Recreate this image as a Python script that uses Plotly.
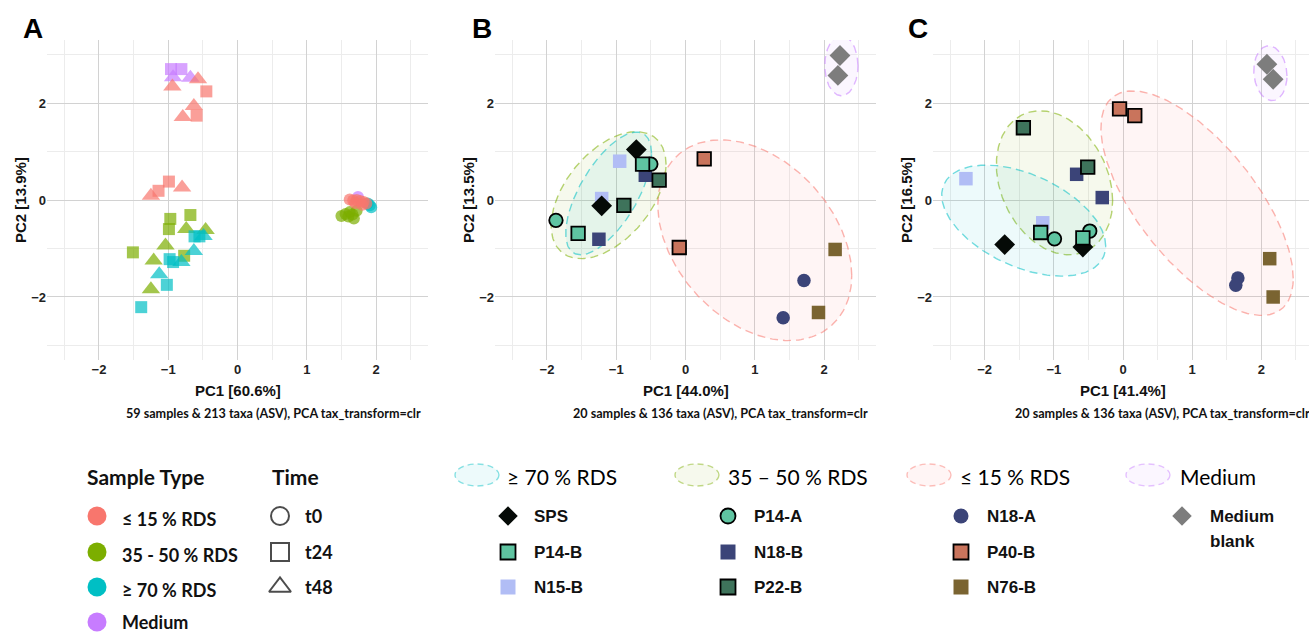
import numpy as np
import plotly.graph_objects as go

# ---------------- Panel A data ----------------
A_types = ["Medium", "35 - 50 % RDS", "≥ 70 % RDS", "≤ 15 % RDS"]
A_colors = ["#C77CFF", "#7CAE00", "#00BFC4", "#F8766D"]

A_med_time = ["t24", "t24", "t48", "t48", "t0"]
A_med_x = [-0.96, -0.81, -0.93, -0.68, 1.74]
A_med_y = [2.70, 2.70, 2.53, 2.52, 0.06]

A_mid_time = ["t24", "t24", "t24", "t24", "t24", "t48", "t48", "t48", "t48", "t48",
              "t0", "t0", "t0", "t0", "t0", "t0", "t0"]
A_mid_x = [-0.97, -0.99, -0.68, -1.51, -0.77, -0.74, -0.46, -1.04, -1.21, -1.25,
           1.50, 1.56, 1.62, 1.68, 1.72, 1.60, 1.66]
A_mid_y = [-0.39, -0.60, -0.31, -1.08, -1.15, -0.60, -0.62, -0.94, -1.25, -1.84,
           -0.33, -0.29, -0.25, -0.38, -0.22, -0.34, -0.30]

A_high_time = ["t24", "t24", "t48", "t48", "t24", "t24", "t48", "t48", "t24", "t24",
               "t0", "t0", "t0"]
A_high_x = [-0.62, -0.55, -0.49, -0.63, -0.93, -0.98, -0.81, -1.13, -1.02, -1.39,
            1.88, 1.91, 1.93]
A_high_y = [-0.75, -0.75, -0.74, -1.05, -1.28, -1.22, -1.28, -1.53, -1.75, -2.21,
            -0.07, -0.11, -0.15]

A_low_time = ["t48", "t48", "t24", "t48", "t48", "t24", "t48", "t24", "t24", "t48",
              "t0", "t0", "t0", "t0", "t0", "t0", "t0", "t0"]
A_low_x = [-0.94, -0.57, -0.45, -0.63, -0.79, -0.59, -1.25, -1.14, -0.99, -0.80,
           1.62, 1.67, 1.72, 1.77, 1.82, 1.86, 1.70, 1.80]
A_low_y = [2.34, 2.49, 2.24, 1.94, 1.71, 1.74, 0.09, 0.19, 0.38, 0.26,
           0.01, -0.01, 0.0, -0.02, -0.04, -0.07, -0.06, -0.10]

time_symbols = {"t0": "circle", "t24": "square", "t48": "triangle-up"}
time_sizes = {"t0": 12, "t24": 12, "t48": 16}

# ---------------- Panels B / C data ----------------
samples = ["Medium blank", "Medium blank", "SPS", "SPS", "P14-A", "P14-A", "P14-B", "P14-B",
           "N15-B", "N15-B", "N18-B", "N18-B", "P22-B", "P22-B", "P40-B", "P40-B",
           "N18-A", "N18-A", "N76-B", "N76-B"]
B_x = [2.23, 2.20, -0.71, -1.21, -0.50, -1.87, -0.62, -1.55, -0.95, -1.21,
       -0.58, -1.25, -0.38, -0.89, 0.27, -0.09, 1.71, 1.41, 2.16, 1.92]
B_y = [2.98, 2.57, 1.04, -0.12, 0.74, -0.42, 0.74, -0.69, 0.80, 0.03,
       0.51, -0.81, 0.41, -0.11, 0.85, -0.98, -1.66, -2.43, -1.02, -2.32]
C_x = [2.08, 2.17, -1.71, -0.58, -0.99, -0.48, -1.19, -0.58, -2.27, -1.16,
       -0.67, -0.30, -1.44, -0.51, -0.05, 0.17, 1.66, 1.63, 2.12, 2.17]
C_y = [2.80, 2.49, -0.92, -0.97, -0.80, -0.64, -0.67, -0.78, 0.44, -0.47,
       0.53, 0.05, 1.49, 0.68, 1.88, 1.74, -1.61, -1.76, -1.21, -2.00]

sample_color = {"SPS": "#050a07", "P14-A": "#5fc4a1", "P14-B": "#5fc4a1", "N15-B": "#b1bdf5",
                "N18-B": "#3b4478", "P22-B": "#3e735b", "N18-A": "#3b4478", "P40-B": "#c9745c",
                "N76-B": "#7a6431", "Medium blank": "#7d7d7d"}
sample_symbol = {"SPS": "diamond", "P14-A": "circle", "P14-B": "square", "N15-B": "square",
                 "N18-B": "square", "P22-B": "square", "N18-A": "circle", "P40-B": "square",
                 "N76-B": "square", "Medium blank": "diamond"}
sample_outline = {"SPS": False, "P14-A": True, "P14-B": True, "N15-B": False, "N18-B": False,
                  "P22-B": True, "N18-A": False, "P40-B": True, "N76-B": False, "Medium blank": False}
draw_order = ["N15-B", "N18-B", "N18-A", "N76-B", "SPS", "P14-A", "P14-B", "P22-B", "P40-B", "Medium blank"]

# ellipse groups: centre, half-width, half-height, correlation
ell_groups = ["≤ 15 % RDS", "35 – 50 % RDS", "≥ 70 % RDS", "Medium"]
ell_rgb = ["248,118,109", "124,174,0", "0,191,196", "199,124,255"]
B_ell_cx = [1.00, -1.11, -1.11, 2.25]
B_ell_cy = [-0.83, 0.10, 0.135, 2.77]
B_ell_hw = [1.40, 0.83, 0.62, 0.24]
B_ell_hh = [2.07, 1.31, 1.265, 0.62]
B_ell_r = [-0.35, 0.48, 0.65, 0.0]
C_ell_cx = [1.07, -0.99, -1.435, 2.13]
C_ell_cy = [-0.065, 0.355, -0.425, 2.615]
C_ell_hw = [1.39, 0.84, 1.185, 0.24]
C_ell_hh = [2.315, 1.485, 1.145, 0.565]
C_ell_r = [-0.67, -0.25, -0.46, -0.1]

fig = go.Figure()

# ---- Panel A ----
A_sets = [(A_med_time, A_med_x, A_med_y), (A_mid_time, A_mid_x, A_mid_y),
          (A_high_time, A_high_x, A_high_y), (A_low_time, A_low_x, A_low_y)]
for (tt, xx, yy), col in zip(A_sets, A_colors):
    fig.add_trace(go.Scatter(
        x=xx, y=yy, mode="markers", xaxis="x", yaxis="y", showlegend=False,
        marker=dict(color=col, symbol=[time_symbols[t] for t in tt],
                    size=[time_sizes[t] for t in tt], line=dict(width=0))))

# ---- Panels B, C ----
def add_panel(xs, ys, cxs, cys, hws, hhs, rs, xa, ya):
    t = np.linspace(0, 2 * np.pi, 241)
    for cx, cy, hw, hh, r, rgb in zip(cxs, cys, hws, hhs, rs, ell_rgb):
        ex = cx + hw * np.cos(t)
        ey = cy + hh * (r * np.cos(t) + np.sqrt(1 - r * r) * np.sin(t))
        fig.add_trace(go.Scatter(
            x=ex, y=ey, mode="lines", xaxis=xa, yaxis=ya, showlegend=False,
            fill="toself", fillcolor=f"rgba({rgb},0.07)",
            line=dict(color=f"rgba({rgb},0.55)", width=1.4, dash="8px,5px")))
    for name in draw_order:
        idx = [i for i, s in enumerate(samples) if s == name]
        fig.add_trace(go.Scatter(
            x=[xs[i] for i in idx], y=[ys[i] for i in idx], mode="markers",
            xaxis=xa, yaxis=ya, showlegend=False,
            marker=dict(color=sample_color[name], symbol=sample_symbol[name],
                        size=16 if sample_symbol[name] == "diamond" else 13.5,
                        line=dict(color="#000000", width=1.8 if sample_outline[name] else 0))))

add_panel(B_x, B_y, B_ell_cx, B_ell_cy, B_ell_hw, B_ell_hh, B_ell_r, "x2", "y2")
add_panel(C_x, C_y, C_ell_cx, C_ell_cy, C_ell_hw, C_ell_hh, C_ell_r, "x3", "y3")

# ---- Legend (drawn in a hidden pixel-space axis) ----
LX, LY = "x4", "y4"
leg_type_labels = ["≤ 15 % RDS", "35 - 50 % RDS", "≥ 70 % RDS", "Medium"]
leg_type_colors = ["#F8766D", "#7CAE00", "#00BFC4", "#C77CFF"]
leg_time_labels = ["t0", "t24", "t48"]
leg_time_symbols = ["circle-open", "square-open", "triangle-up-open"]
row_y = [516, 552, 587, 622]
label_dy = [3, 3, 3, 0]

fig.add_trace(go.Scatter(x=[97] * 4, y=row_y, mode="markers", xaxis=LX, yaxis=LY, showlegend=False,
                         marker=dict(color=leg_type_colors, size=19, symbol="circle")))
fig.add_trace(go.Scatter(x=[280] * 3, y=row_y[:3], mode="markers", xaxis=LX, yaxis=LY, showlegend=False,
                         marker=dict(color="black", size=[18, 18, 19], symbol=leg_time_symbols,
                                     line=dict(width=2, color="black"))))

ann = []
def txt(x, y, s, size, family="Lato", bold=True, anchor="left", ref=(LX, LY), color="#111111", angle=0):
    ann.append(dict(x=x, y=y, xref=ref[0], yref=ref[1], text=(f"<b>{s}</b>" if bold else s),
                    showarrow=False, xanchor=anchor, yanchor="middle", textangle=angle,
                    font=dict(family=family, size=size, color=color)))

txt(85, 476, "Sample Type", 21)
txt(270, 476, "Time", 21)
for lab, yy, dy in zip(leg_type_labels, row_y, label_dy):
    txt(120, yy + dy, lab, 18)
for lab, yy in zip(leg_time_labels, row_y):
    txt(303, yy, lab, 18)

# ellipse group headers
ell_leg_x = [929, 697, 477, 1148]
ell_leg_tx = [958, 726, 505, 1178]
shapes = []
for g, rgb, cx, tx in zip(ell_groups, ell_rgb, ell_leg_x, ell_leg_tx):
    shapes.append(dict(type="circle", xref=LX, yref=LY, x0=cx - 22, x1=cx + 22, y0=464, y1=486,
                       fillcolor=f"rgba({rgb},0.07)",
                       line=dict(color=f"rgba({rgb},0.45)", width=1.4, dash="6px,4px")))
    txt(tx, 476, g, 21, bold=False, color="#000000")

leg_samples = [["SPS", "P14-B", "N15-B"], ["P14-A", "N18-B", "P22-B"],
               ["N18-A", "P40-B", "N76-B"], ["Medium blank"]]
leg_sx = [508, 728, 961, 1182]
for col, sx in zip(leg_samples, leg_sx):
    for k, name in enumerate(col):
        yy = row_y[k]
        fig.add_trace(go.Scatter(
            x=[sx], y=[yy], mode="markers", xaxis=LX, yaxis=LY, showlegend=False,
            marker=dict(color=sample_color[name], symbol=sample_symbol[name],
                        size=15 if sample_symbol[name] != "diamond" else 15,
                        line=dict(color="#000000", width=1.8 if sample_outline[name] else 0))))
        if name == "Medium blank":
            txt(sx + 26, yy, "Medium", 17, family="Liberation Sans")
            txt(sx + 26, yy + 25, "blank", 17, family="Liberation Sans")
        else:
            txt(sx + 24, yy, name, 17, family="Liberation Sans")

# ---- Panel letters, axis titles, captions ----
for L, x in zip(["A", "B", "C"], [33, 482, 918]):
    ann.append(dict(x=x / 1309, y=1 - 28 / 635, xref="paper", yref="paper", text=f"<b>{L}</b>",
                    showarrow=False, xanchor="center", yanchor="middle",
                    font=dict(family="Liberation Sans", size=28, color="black")))

x_titles = ["PC1 [60.6%]", "PC1 [44.0%]", "PC1 [41.4%]"]
y_titles = ["PC2 [13.9%]", "PC2 [13.5%]", "PC2 [16.5%]"]
captions = ["59 samples & 213 taxa (ASV), PCA tax_transform=clr",
            "20 samples & 136 taxa (ASV), PCA tax_transform=clr",
            "20 samples & 136 taxa (ASV), PCA tax_transform=clr"]
xt_pos = [238, 686, 1123]
yt_pos = [20, 468, 906]
cap_pos = [(423, "right"), (870, "right"), (1013, "left")]
for i in range(3):
    ann.append(dict(x=xt_pos[i] / 1309, y=1 - 390 / 635, xref="paper", yref="paper",
                    text=f"<b>{x_titles[i]}</b>", showarrow=False, xanchor="center", yanchor="middle",
                    font=dict(family="Liberation Sans", size=15, color="#111111")))
    ann.append(dict(x=yt_pos[i] / 1309, y=1 - 200 / 635, xref="paper", yref="paper",
                    text=f"<b>{y_titles[i]}</b>", showarrow=False, xanchor="center", yanchor="middle",
                    textangle=-90, font=dict(family="Liberation Sans", size=15, color="#111111")))
    ann.append(dict(x=cap_pos[i][0] / 1309, y=1 - 413 / 635, xref="paper", yref="paper",
                    text=f"<b>{captions[i]}</b>", showarrow=False, xanchor=cap_pos[i][1], yanchor="middle",
                    font=dict(family="Lato", size=12.6, color="#111111")))

# ---- Axes ----
ydom = [1 - 360 / 635, 1 - 40 / 635]
xdoms = [[47 / 1309, 428 / 1309], [495 / 1309, 876 / 1309], [933 / 1309, 1.0]]
xranges = [[-2.75, 2.75], [-2.75, 2.75], [-2.746, 2.688]]
tickfont = dict(family="Liberation Sans", size=13, color="#222222", weight="bold")
layout_axes = {}
for i in range(3):
    sfx = "" if i == 0 else str(i + 1)
    layout_axes["xaxis" + sfx] = dict(
        domain=xdoms[i], range=xranges[i], anchor="y" + sfx, tickvals=[-2, -1, 0, 1, 2],
        showgrid=True, gridcolor="#d2d2d2", gridwidth=1, zeroline=False, showline=False,
        ticks="", tickfont=tickfont, fixedrange=True,
        minor=dict(tickvals=[-2.5, -1.5, -0.5, 0.5, 1.5, 2.5], showgrid=True, gridcolor="#ececec", gridwidth=1))
    layout_axes["yaxis" + sfx] = dict(
        domain=ydom, range=[-3.3, 3.3], anchor="x" + sfx, tickvals=[-2, 0, 2],
        showgrid=True, gridcolor="#d2d2d2", gridwidth=1, zeroline=False, showline=False,
        ticks="", tickfont=tickfont, fixedrange=True,
        minor=dict(tickvals=[-3, -1, 1, 3], showgrid=True, gridcolor="#ececec", gridwidth=1))
layout_axes["xaxis4"] = dict(domain=[0, 1], range=[0, 1309], anchor="y4", visible=False, fixedrange=True)
layout_axes["yaxis4"] = dict(domain=[0, 185 / 635], range=[635, 450], anchor="x4", visible=False, fixedrange=True)

fig.update_layout(
    width=1309, height=635, margin=dict(l=0, r=0, t=0, b=0),
    paper_bgcolor="white", plot_bgcolor="white", showlegend=False,
    annotations=ann, shapes=shapes, **layout_axes)

fig.write_html("out.html", config={"displayModeBar": False},
               post_script="document.body.style.margin='0';document.body.style.overflow='hidden';")
